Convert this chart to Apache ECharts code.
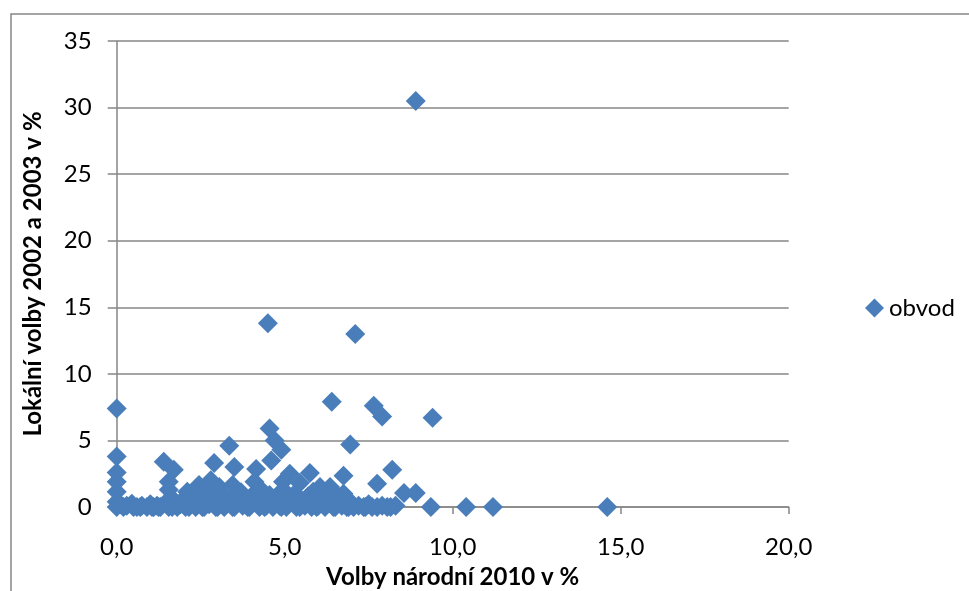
<!DOCTYPE html>
<html>
<head>
<meta charset="utf-8">
<title>obvod</title>
<script src="https://cdn.jsdelivr.net/npm/echarts@6/dist/echarts.min.js"></script>
<style>
  html, body { margin: 0; padding: 0; background: #fff; }
  #chart { width: 969px; height: 591px; }
</style>
</head>
<body>
<div id="chart"></div>
<script>
// x: Volby národní 2010 v %, y: Lokální volby 2002 a 2003 v %
const nationalPct = [
  8.9, 4.5, 7.1, 0, 6.4, 7.65, 7.9, 9.4, 4.55, 4.7, 4.9, 6.95, 3.35, 0, 4.6, 1.4,
  2.9, 3.5, 1.7, 4.15, 8.2, 0, 5.15, 5.75, 6.75, 0, 1.55, 2.8, 4.1, 4.95, 5.45, 7.75,
  2.45, 3.45, 3.05, 6.05, 6.35, 1.55, 4.3, 4.95, 0, 2.1, 5.85, 6.45, 6.75, 8.55, 8.9,
  9.35, 10.4, 11.2, 14.6,
  0, 0, 0.1, 0.3, 0.45, 0.6, 0.75, 0.9, 1.0, 1.1, 1.2, 1.3, 1.45, 1.55, 1.7, 1.8,
  1.9, 2.0, 2.05, 2.2, 2.3, 2.35, 2.5, 2.6, 2.65, 2.75, 2.85, 2.95, 3.05, 3.15, 3.2,
  3.3, 3.4, 3.5, 3.6, 3.7, 3.75, 3.85, 3.95, 4.05, 4.15, 4.25, 4.35, 4.45, 4.55, 4.65,
  4.75, 4.85, 5.0, 5.05, 5.2, 5.3, 5.35, 5.5, 5.6, 5.7, 5.8, 5.9, 6.0, 6.15, 6.2,
  6.35, 6.5, 6.6, 6.7, 6.85, 6.95, 7.05, 7.2, 7.35, 7.5, 7.6, 7.75, 7.9, 8.05, 8.3,
  0.2, 0.5, 0.7, 1.05, 1.25, 1.65, 2.15, 2.55, 3.0, 3.45, 3.9, 4.4, 4.9, 5.45, 5.95,
  6.45, 6.9, 7.4, 8.15
]
const localPct = [
  30.5, 13.8, 13.0, 7.4, 7.9, 7.6, 6.8, 6.7, 5.9, 5.0, 4.3, 4.7, 4.6, 3.8, 3.5, 3.4,
  3.3, 3.0, 2.8, 2.85, 2.8, 2.6, 2.5, 2.55, 2.35, 1.9, 1.9, 2.0, 1.9, 1.9, 1.8, 1.75,
  1.65, 1.65, 1.5, 1.5, 1.5, 1.3, 1.3, 1.3, 1.15, 1.15, 1.15, 1.15, 1.0, 1.05, 1.05,
  0, 0, 0, 0,
  0.4, 0, 0.2, 0.1, 0.25, 0, 0.1, 0, 0.2, 0, 0.1, 0, 0.3, 0, 0.5, 0,
  0.2, 0.6, 0, 0.3, 0.9, 0, 0.4, 0, 1.0, 0.2, 0.7, 0, 0.4, 0.9, 0,
  0.3, 0.8, 0, 0.5, 1.1, 0.1, 0.6, 0, 0.9, 0.3, 0, 0.6, 0.1, 0.9, 0,
  0.4, 0.1, 0.7, 0, 0.4, 1.0, 0, 0.5, 0.1, 0.8, 0, 0.4, 0.1, 0.7, 0,
  0.3, 0, 0.6, 0.1, 0, 0.4, 0, 0.1, 0, 0.2, 0, 0, 0.1, 0, 0.1,
  0, 0, 0, 0, 0, 0, 0, 0, 0, 0, 0, 0, 0, 0, 0,
  0, 0, 0, 0
]
const seriesName = 'obvod'
const xTitle = 'Volby národní 2010 v %'
const yTitle = 'Lokální volby 2002 a 2003 v %'

const points = nationalPct.map((x, i) => [x, localPct[i]])
const font = 'Lato, "Open Sans", sans-serif'
const axisGrey = '#868686'

const chart = echarts.init(document.getElementById('chart'))
chart.setOption({
  animation: false,
  textStyle: { fontFamily: font },
  // outer frame of the chart area
  graphic: [{
    type: 'rect',
    shape: { x: 11, y: 14, width: 1000, height: 1000 },
    style: { fill: 'none', stroke: axisGrey, lineWidth: 1.5 },
    silent: true
  }],
  grid: { left: 116.7, right: 180.3, top: 41, bottom: 84, outerBoundsMode: 'none' },
  legend: {
    left: 860,
    top: 291,
    orient: 'vertical',
    icon: 'diamond',
    itemWidth: 19,
    itemHeight: 19,
    itemGap: 5,
    textStyle: { fontSize: 24, color: '#000', fontFamily: font },
    data: [seriesName]
  },
  xAxis: {
    type: 'value',
    min: 0,
    max: 20,
    interval: 5,
    name: xTitle,
    nameLocation: 'middle',
    nameGap: 58,
    nameTextStyle: { fontSize: 24, fontWeight: 'bold', color: '#000', fontFamily: font },
    axisLine: { lineStyle: { color: axisGrey, width: 1.5 } },
    axisTick: { show: true, inside: false, length: 7, lineStyle: { color: axisGrey, width: 1.5 } },
    axisLabel: {
      fontSize: 24,
      color: '#000',
      margin: 28,
      formatter: (v) => v.toFixed(1).replace('.', ',')
    },
    splitLine: { show: false }
  },
  yAxis: {
    type: 'value',
    min: 0,
    max: 35,
    interval: 5,
    name: yTitle,
    nameLocation: 'middle',
    nameGap: 71,
    nameTextStyle: { fontSize: 24, fontWeight: 'bold', color: '#000', fontFamily: font },
    axisLine: { show: true, lineStyle: { color: axisGrey, width: 1.5 } },
    axisTick: { show: true, inside: false, length: 9, lineStyle: { color: axisGrey, width: 1.5 } },
    axisLabel: { fontSize: 24, color: '#000', margin: 25 },
    splitLine: { show: true, lineStyle: { color: axisGrey, width: 1.5 } }
  },
  series: [{
    name: seriesName,
    type: 'scatter',
    symbol: 'diamond',
    symbolSize: 20,
    itemStyle: { color: '#4A7EBB', opacity: 1 },
    data: points
  }]
})
</script>
</body>
</html>
